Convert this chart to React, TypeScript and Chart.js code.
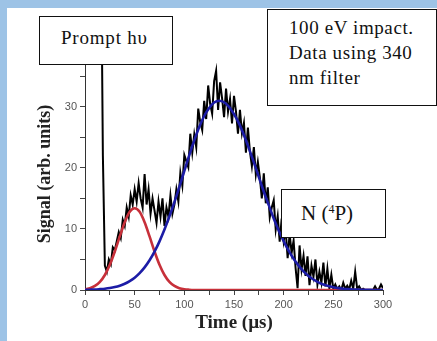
import React, { useEffect, useRef } from "react";
import { Chart, registerables } from "chart.js";

Chart.register(...registerables);

// Measured signal, time axis 16..300 µs, one sample every 2 µs
const signalStart = 16;
const signalStep = 2;
const signalValues = [
  60, 22, 4, 3.0, 5.0, 4.2, 7.0, 6.5, 8.0, 9.5,
  8.5, 11.5, 10.5, 13.5, 12.0, 15.5, 14.0, 16.5, 14.5, 17.5,
  15.0, 13.5, 19.0, 14.0, 16.5, 12.5, 15.0, 13.0, 11.0, 14.5,
  12.0, 15.0, 10.5, 13.5, 12.0, 15.5, 12.5, 14.0, 16.5, 14.5,
  19.2, 17.1, 22.1, 21.1, 20.1, 25.6, 22.5, 25.5, 23.4, 29.7,
  27.5, 26.2, 31.0, 28.0, 33.5, 30.5, 28.9, 34.2, 35.9, 29.5,
  34.0, 31.4, 28.3, 33.0, 29.2, 31.3, 27.3, 31.8, 29.2, 25.6,
  29.5, 25.7, 27.4, 22.5, 26.6, 22.7, 20.3, 23.4, 18.9, 21.0,
  18.5, 15.0, 19.1, 14.2, 16.8, 11.9, 13.5, 14.7, 9.9, 12.1,
  7.9, 11.7, 8.0, 9.9, 5.2, 9.2, 6.1, 8.1, 3.6, 0.3,
  7.3, 3.4, 5.6, 2.3, 5.5, 0.8, 4.0, 2.2, 5.0, 0.9,
  3.0, 1.2, 4.5, 0.6, 3.5, 0.3, 2.5, 0.2, 0.9, 0.1,
  0.6, 0, 1.2, 0.2, 0.7, 0.1, 1.5, 0.2, 3.0, 0.2,
  0.6, 0, 0.2, 0, 0, 0, 0, 0, 0.6, 0,
  0.2, 0.9, 0.3,
];

// Fitted components, every 5 µs from 0 to 300
const fitStart = 0;
const fitStep = 5;
const fastFit = [
  0.12, 0.3, 0.66, 1.33, 2.46, 4.13, 6.31, 8.77, 11.1, 12.8, 13.4, 12.8, 11.1, 8.77, 6.31, 4.13, 2.46, 1.33,
  0.66, 0.3, 0.12, 0.05, 0.01, 0, 0, 0, 0, 0, 0, 0, 0, 0, 0, 0, 0, 0, 0, 0, 0, 0, 0, 0, 0, 0, 0, 0, 0, 0, 0,
  0, 0, 0, 0, 0, 0, 0, 0, 0, 0, 0, 0,
];
const slowFit = [
  0.03, 0.05, 0.08, 0.14, 0.21, 0.32, 0.48, 0.71, 1.03, 1.46, 2.02, 2.77, 3.71, 4.88, 6.29, 7.97, 9.9, 12.07,
  14.4, 16.9, 19.5, 22.1, 24.5, 26.7, 28.5, 29.8, 30.7, 31.0, 30.75, 30.0, 28.8, 27.3, 25.4, 23.2, 20.9, 18.5,
  16.1, 13.9, 11.7, 9.74, 8.0, 6.45, 5.11, 3.99, 3.06, 2.31, 1.72, 1.26, 0.9, 0.64, 0.45, 0.31, 0.21, 0.14,
  0.09, 0.06, 0.04, 0.02, 0.01, 0, 0,
];

const xTicks = [0, 25, 50, 75, 100, 125, 150, 175, 200, 225, 250, 275, 300];
const xLabels = [0, 50, 100, 150, 200, 250, 300];
const yTicks = [0, 5, 10, 15, 20, 25, 30, 35];
const yLabels = [0, 10, 20, 30];

const toPoints = (start: number, step: number, vals: number[]) =>
  vals.map((v, i) => ({ x: start + i * step, y: v }));

const SERIF = "'Liberation Serif', 'Times New Roman', serif";

export default function App() {
  const ref = useRef<HTMLCanvasElement>(null);

  useEffect(() => {
    if (!ref.current) return;
    const chart = new Chart(ref.current, {
      type: "line",
      data: {
        datasets: [
          {
            label: "slow",
            data: toPoints(fitStart, fitStep, slowFit),
            borderColor: "#1c1ca6",
            borderWidth: 2.6,
            pointRadius: 0,
            cubicInterpolationMode: "monotone",
          },
          {
            label: "fast",
            data: toPoints(fitStart, fitStep, fastFit),
            borderColor: "#c7303a",
            borderWidth: 2.6,
            pointRadius: 0,
            cubicInterpolationMode: "monotone",
          },
          {
            label: "signal",
            data: toPoints(signalStart, signalStep, signalValues),
            borderColor: "#000000",
            borderWidth: 2,
            pointRadius: 0,
            tension: 0,
          },
        ],
      },
      options: {
        animation: false,
        responsive: false,
        maintainAspectRatio: false,
        layout: { padding: { left: 31, right: 54, top: 58, bottom: 7 } },
        plugins: { legend: { display: false }, tooltip: { enabled: false } },
        scales: {
          x: {
            type: "linear",
            min: 0,
            max: 300,
            afterFit: (s: any) => {
              s.height = 44;
            },
            afterBuildTicks: (s: any) => {
              s.ticks = xTicks.map((v) => ({ value: v }));
            },
            border: { display: true, color: "#333", width: 1 },
            grid: { drawOnChartArea: false, drawTicks: true, tickLength: 5, color: "#444" },
            ticks: {
              padding: 3,
              color: "#555",
              font: { family: "'Liberation Sans', Arial, sans-serif", size: 11 },
              autoSkip: false,
              maxRotation: 0,
              callback: (v: any) => (xLabels.includes(Number(v)) ? String(v) : ""),
            },
            title: {
              display: true,
              text: "Time (µs)",
              color: "#222",
              font: { family: SERIF, size: 19, weight: "bold" },
              padding: { top: 0, bottom: 0 },
            },
          },
          y: {
            type: "linear",
            min: 0,
            max: 38,
            afterFit: (s: any) => {
              s.width = 54;
            },
            afterBuildTicks: (s: any) => {
              s.ticks = yTicks.map((v) => ({ value: v }));
            },
            border: { display: true, color: "#333", width: 1 },
            grid: { drawOnChartArea: false, drawTicks: true, tickLength: 5, color: "#444" },
            ticks: {
              padding: 3,
              color: "#555",
              font: { family: "'Liberation Sans', Arial, sans-serif", size: 11 },
              autoSkip: false,
              callback: (v: any) => (yLabels.includes(Number(v)) ? String(v) : ""),
            },
            title: {
              display: true,
              text: "Signal (arb. units)",
              color: "#222",
              font: { family: SERIF, size: 18, weight: "bold" },
              padding: { top: 4, bottom: 0 },
            },
          },
        },
      },
    });
    return () => chart.destroy();
  }, []);

  const boxStyle: React.CSSProperties = {
    position: "absolute",
    background: "#fff",
    border: "1.5px solid #111",
    boxSizing: "border-box",
    fontFamily: SERIF,
    color: "#111",
    whiteSpace: "nowrap",
  };

  return (
    <div
      style={{
        position: "fixed",
        left: 0,
        top: 0,
        width: 437,
        height: 341,
        background: "#9dc3e6",
        overflow: "hidden",
      }}
    >
      <div style={{ position: "absolute", left: 7, top: 8, width: 430, height: 333, background: "#fff" }} />
      <canvas ref={ref} width={437} height={341} style={{ position: "absolute", left: 0, top: 0 }} />
      <div
        style={{
          ...boxStyle,
          left: 39,
          top: 16,
          width: 134,
          height: 49,
          fontSize: 19,
          paddingLeft: 21,
          paddingTop: 10,
          lineHeight: "22px",
          letterSpacing: "0.8px",
        }}
      >
        Prompt hυ
      </div>
      <div
        style={{
          ...boxStyle,
          left: 267,
          top: 9,
          width: 170,
          height: 97,
          fontSize: 19,
          paddingLeft: 21,
          paddingTop: 5,
          lineHeight: "25px",
          letterSpacing: "0.6px",
        }}
      >
        100 eV impact.
        <br />
        Data using 340
        <br />
        nm filter
      </div>
      <div
        style={{
          ...boxStyle,
          left: 281,
          top: 189,
          width: 105,
          height: 49,
          fontSize: 21,
          paddingLeft: 19,
          paddingTop: 10,
          lineHeight: "26px",
        }}
      >
        N (<sup style={{ fontSize: 12, verticalAlign: "7px", lineHeight: 0 }}>4</sup>P)
      </div>
    </div>
  );
}
